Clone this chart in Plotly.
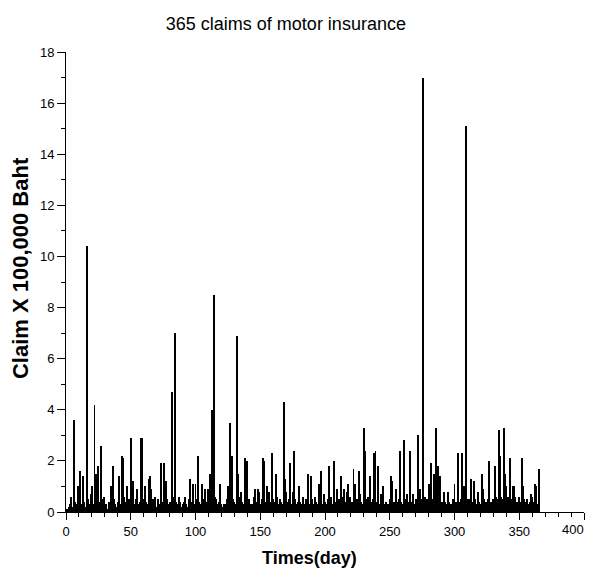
import plotly.graph_objects as go

title_text = "365 claims of motor insurance"
x_title = "Times(day)"
y_title = "Claim X 100,000 Baht"

days = list(range(1, 366))

claims = [
    0.1, 0.2, 0.3, 0.6, 0.2, 3.6, 0.4, 0.3, 1.0, 0.3,
    1.6, 0.3, 1.4, 0.4, 0.2, 10.4, 0.5, 0.3, 0.7, 1.0,
    0.3, 4.2, 1.5, 0.6, 1.8, 0.4, 2.6, 0.5, 0.6, 0.2,
    0.3, 0.1, 0.4, 0.2, 1.0, 1.8, 0.5, 0.3, 0.2, 0.4,
    1.4, 0.3, 2.2, 2.1, 0.6, 0.4, 1.0, 0.3, 0.5, 2.9,
    0.4, 1.2, 0.3, 0.5, 0.9, 0.3, 0.4, 2.9, 2.9, 0.5,
    1.0, 0.4, 0.3, 1.3, 1.4, 0.9, 0.5, 0.3, 0.6, 0.2,
    0.5, 0.3, 1.9, 0.4, 0.3, 1.9, 1.2, 0.5, 0.3, 0.4,
    0.3, 4.7, 0.6, 7.0, 0.4, 0.3, 0.6, 0.4, 0.2, 0.3,
    0.4, 0.6, 0.3, 0.2, 0.5, 1.3, 0.4, 1.1, 0.3, 1.1,
    0.5, 2.2, 0.4, 0.3, 1.1, 0.5, 0.9, 0.3, 0.4, 0.9,
    1.5, 0.4, 4.0, 8.5, 0.6, 0.5, 0.3, 0.4, 1.1, 0.3,
    0.2, 0.3, 0.3, 0.5, 1.0, 0.4, 3.5, 2.2, 0.5, 0.4,
    0.3, 6.9, 1.5, 0.6, 0.8, 0.4, 0.3, 2.1, 0.7, 2.0,
    0.5, 0.3, 0.2, 0.3, 0.6, 0.9, 0.4, 0.9, 0.8, 0.3,
    0.5, 2.1, 2.0, 0.4, 1.0, 0.5, 0.8, 0.4, 2.3, 0.5,
    0.4, 1.5, 0.6, 0.3, 0.5, 0.4, 0.3, 4.3, 1.3, 0.8,
    0.4, 0.5, 1.9, 0.3, 0.8, 2.4, 0.5, 0.3, 0.4, 1.0,
    0.4, 0.3, 0.6, 0.3, 0.5, 0.4, 1.5, 0.3, 1.4, 0.5,
    0.3, 0.6, 0.4, 0.3, 1.1, 0.4, 1.6, 0.3, 0.7, 0.4,
    0.3, 0.5, 1.8, 0.4, 0.6, 0.3, 2.0, 0.4, 0.9, 0.3,
    0.5, 1.4, 0.3, 0.6, 0.9, 0.4, 0.8, 1.1, 0.6, 0.3,
    0.4, 1.7, 1.1, 0.3, 0.5, 1.6, 0.7, 0.4, 0.3, 3.3,
    2.4, 0.5, 0.6, 0.3, 1.4, 0.4, 0.5, 2.3, 2.4, 0.4,
    1.8, 0.3, 0.7, 0.4, 1.0, 0.3, 0.4, 0.2, 0.3, 0.5,
    1.4, 1.2, 0.4, 0.3, 0.9, 0.4, 0.5, 2.4, 0.4, 0.3,
    2.8, 0.5, 0.7, 0.4, 0.3, 2.4, 0.4, 0.7, 0.3, 0.5,
    0.4, 3.0, 0.9, 0.5, 0.3, 17.0, 0.6, 0.4, 0.5, 1.1,
    0.4, 1.9, 0.5, 1.5, 0.6, 3.3, 1.8, 0.5, 1.4, 0.4,
    0.3, 0.8, 0.4, 0.3, 0.8, 0.4, 0.3, 0.2, 0.5, 1.1,
    0.4, 0.3, 2.3, 0.4, 0.5, 2.3, 1.0, 0.4, 15.1, 0.5,
    0.5, 0.3, 1.3, 0.4, 1.2, 0.5, 0.3, 0.8, 0.4, 0.3,
    1.5, 0.9, 0.5, 0.4, 0.3, 0.5, 2.0, 0.4, 0.4, 0.5,
    1.8, 0.6, 0.5, 3.2, 2.2, 0.6, 0.5, 3.3, 1.5, 1.0,
    0.6, 0.4, 2.1, 0.5, 1.0, 1.0, 0.6, 0.4, 0.3, 0.6,
    0.4, 2.1, 1.0, 0.5, 0.4, 0.5, 0.3, 0.4, 0.7, 0.6,
    0.4, 1.1, 1.0, 0.3, 1.7,
]

x_tickvals = [0, 50, 100, 150, 200, 250, 300, 350, 400]
x_ticktext = ["0", "50", "100", "150", "200", "250", "300", "350", ""]
x_last_label = "400"
y_tickvals = [0, 2, 4, 6, 8, 10, 12, 14, 16, 18]

FONT = "Liberation Sans, Arial, sans-serif"

fig = go.Figure()
fig.add_trace(go.Bar(
    x=days, y=claims, width=0.75,
    marker=dict(color="black", line=dict(width=0)),
    showlegend=False,
))

axis_font = dict(family=FONT, size=13, color="black")

# the page adds an 8px body margin, so the figure is 585x566 and offset by 8px
fig.update_layout(
    width=585, height=566,
    margin=dict(l=58, r=9, t=44, b=62, autoexpand=False),
    paper_bgcolor="white", plot_bgcolor="white",
    bargap=0,
    title=dict(text=title_text, x=0.475, xanchor="center", xref="container",
               y=0.973, yanchor="middle", yref="container",
               font=dict(family=FONT, size=18, color="black")),
    xaxis=dict(
        range=[0, 400], tickvals=x_tickvals, ticktext=x_ticktext,
        ticks="outside", ticklen=7, tickwidth=1, tickcolor="black",
        minor=dict(dtick=10, ticks="outside", ticklen=4, tickcolor="black", tickwidth=1, showgrid=False),
        showline=True, linecolor="black", linewidth=1, mirror=False,
        showgrid=False, zeroline=False, tickfont=axis_font,
        automargin=False, ticklabeloverflow="allow",
    ),
    yaxis=dict(
        range=[0, 18], tickvals=y_tickvals, ticktext=[str(v) for v in y_tickvals],
        ticks="outside", ticklen=8, tickwidth=1, tickcolor="black",
        minor=dict(dtick=1, ticks="outside", ticklen=4, tickcolor="black", tickwidth=1, showgrid=False),
        showline=True, linecolor="black", linewidth=1, mirror=False,
        showgrid=False, zeroline=False, tickfont=axis_font,
        automargin=False, ticklabeloverflow="allow",
    ),
    annotations=[
        dict(text=x_last_label, xref="x", yref="paper",
             x=x_tickvals[-1], y=0, xanchor="right", yanchor="top", yshift=-8, xshift=2,
             showarrow=False, font=axis_font),
        dict(text="<b>" + x_title + "</b>", xref="paper", yref="paper",
             x=0.471, y=-0.1, xanchor="center", yanchor="middle", showarrow=False,
             font=dict(family=FONT, size=18, color="black")),
        dict(text="<b>" + y_title + "</b>", xref="paper", yref="paper",
             x=-0.089, y=0.53, xanchor="center", yanchor="middle", showarrow=False,
             textangle=-90, font=dict(family=FONT, size=22, color="black")),
    ],
)

fig.write_html("out.html")
